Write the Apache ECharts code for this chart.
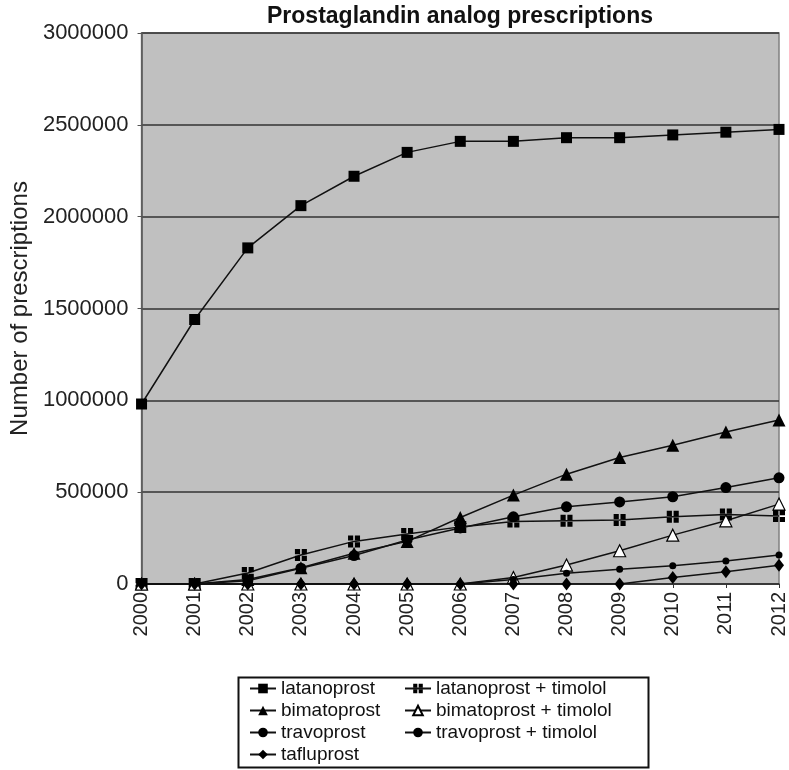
<!DOCTYPE html>
<html>
<head>
<meta charset="utf-8">
<script src="https://cdn.jsdelivr.net/npm/echarts@6/dist/echarts.min.js"></script>
<style>html,body{margin:0;padding:0;background:#fff;}#c{width:789px;height:770px;}</style>
</head>
<body>
<div id="c"></div>
<script>
var years = ['2000','2001','2002','2003','2004','2005','2006','2007','2008','2009','2010','2011','2012'];
var latanoprost = [980000, 1440000, 1830000, 2060000, 2220000, 2350000, 2410000, 2410000, 2430000, 2430000, 2445000, 2460000, 2475000];
var bimatoprost = [0, 0, 25000, 89000, 167000, 232000, 362000, 484000, 598000, 689000, 755000, 828000, 893000];
var travoprost = [0, 0, 18000, 86000, 155000, 240000, 305000, 366000, 420000, 447000, 475000, 525000, 578000];
var tafluprost = [0, 0, 0, 0, 0, 0, 0, 0, 0, 0, 36000, 67000, 102000];
var latanoprostTimolol = [0, 0, 60000, 158000, 232000, 272000, 311000, 340000, 344000, 348000, 366000, 378000, 370000];
var bimatoprostTimolol = [0, 0, 0, 0, 0, 0, 0, 35000, 103000, 181000, 266000, 344000, 435000];
var travoprostTimolol = [0, 0, 0, 0, 0, 0, 0, 25000, 58000, 80000, 100000, 125000, 158000];
var yTicks = [0, 500000, 1000000, 1500000, 2000000, 2500000, 3000000];

var FONT = 'Liberation Sans, Arial, sans-serif';
var crossSquare = 'path://M0,0h4.3v4.3h-4.3z M5.7,0h4.3v4.3h-4.3z M0,5.7h4.3v4.3h-4.3z M5.7,5.7h4.3v4.3h-4.3z';

function mk(name, data, symbol, size, fill) {
  return {
    name: name, type: 'line', data: data,
    symbol: symbol, symbolSize: size,
    lineStyle: {color: '#111', width: 1.5},
    itemStyle: {color: fill || '#000', borderColor: '#000', borderWidth: fill ? 1.2 : 0},
    emphasis: {disabled: true},
    animation: false
  };
}

var legendCommon = {
  orient: 'vertical', top: 679, padding: 0, itemGap: 3, itemWidth: 26, itemHeight: 12,
  height: 88,
  textStyle: {fontFamily: FONT, fontSize: 19, color: '#111', lineHeight: 19}
};

var chart = echarts.init(document.getElementById('c'), null, {renderer: 'canvas'});
chart.setOption({
  backgroundColor: '#fff',
  animation: false,
  title: {
    text: 'Prostaglandin analog prescriptions',
    left: 455, top: 0, textAlign: 'center',
    textStyle: {fontFamily: FONT, fontSize: 23, fontWeight: 'bold', color: '#111'}
  },
  grid: {
    left: 137, right: 9, top: 33, bottom: 186,
    show: true, backgroundColor: '#c0c0c0', borderColor: '#808080', borderWidth: 1.5
  },
  xAxis: {
    type: 'category', data: years, boundaryGap: false,
    axisLine: {lineStyle: {color: '#333', width: 1.5}},
    axisTick: {show: true, length: 4, lineStyle: {color: '#333'}},
    axisLabel: {rotate: 90, fontFamily: FONT, fontSize: 20, color: '#222', margin: 8}
  },
  yAxis: {
    type: 'value', min: 0, max: 3000000, interval: 500000,
    name: 'Number of prescriptions', nameLocation: 'middle', nameGap: 108,
    nameTextStyle: {fontFamily: FONT, fontSize: 24, color: '#222'},
    axisLine: {show: true, lineStyle: {color: '#555', width: 1.5}},
    axisTick: {show: true, length: 4, lineStyle: {color: '#555'}},
    axisLabel: {fontFamily: FONT, fontSize: 22, color: '#222', margin: 13,
      formatter: function (v) { return yTicks.indexOf(v) >= 0 ? String(v) : ''; }},
    splitLine: {show: true, lineStyle: {color: '#333', width: 1.5}}
  },
  legend: [
    Object.assign({}, legendCommon, {
      left: 249,
      data: ['latanoprost', 'bimatoprost', 'travoprost', 'tafluprost']
    }),
    Object.assign({}, legendCommon, {
      left: 404,
      data: ['latanoprost + timolol', 'bimatoprost + timolol', 'travoprost + timolol']
    })
  ],
  graphic: [{
    type: 'rect', left: 236, top: 675, silent: true,
    shape: {width: 410, height: 90},
    style: {fill: 'none', stroke: '#111', lineWidth: 2}
  }],
  series: [
    mk('latanoprost', latanoprost, 'rect', 11),
    mk('latanoprost + timolol', latanoprostTimolol, crossSquare, 12),
    mk('bimatoprost', bimatoprost, 'triangle', 13),
    mk('travoprost', travoprost, 'circle', 11),
    mk('bimatoprost + timolol', bimatoprostTimolol, 'triangle', 12, '#fff'),
    mk('travoprost + timolol', travoprostTimolol, 'circle', 7),
    mk('tafluprost', tafluprost, 'diamond', [10, 13])
  ]
});
</script>
</body>
</html>
